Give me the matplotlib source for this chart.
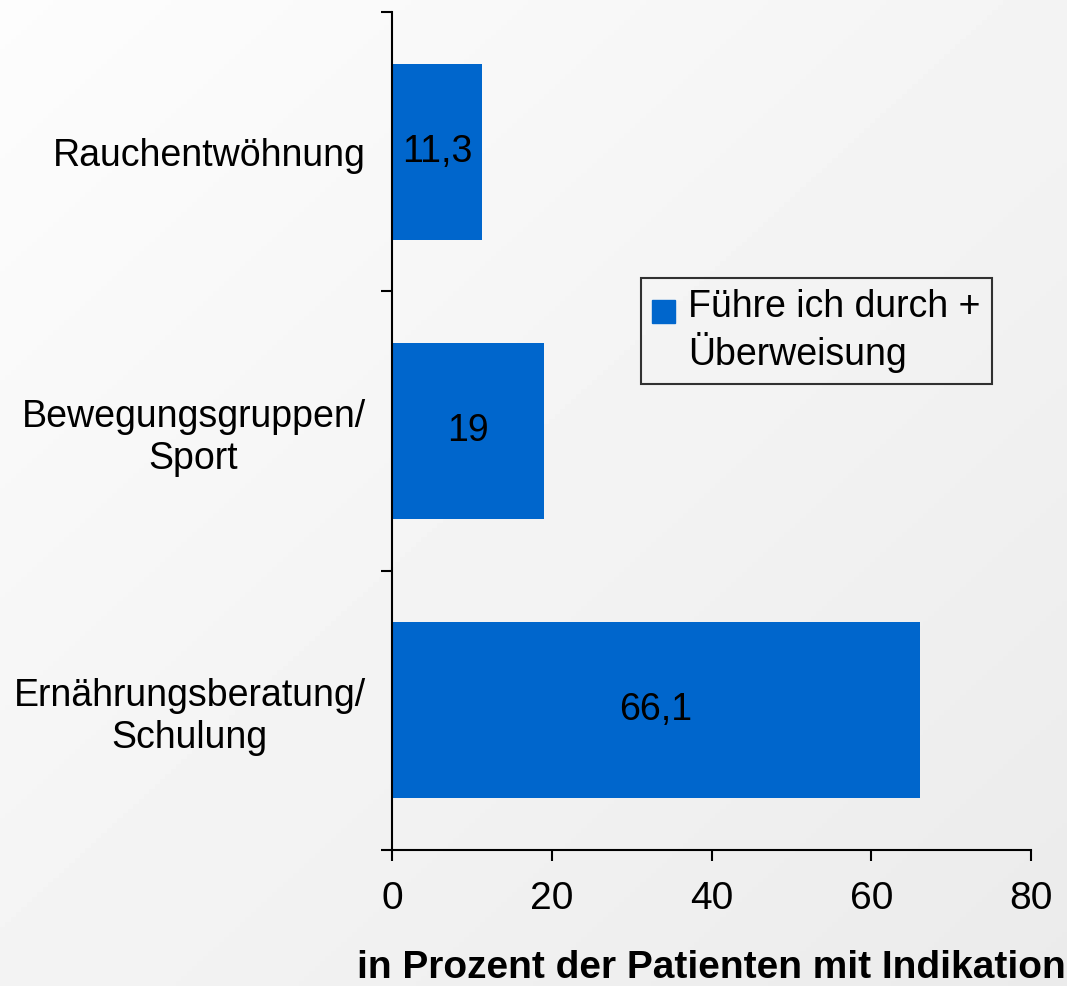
import numpy as np
import matplotlib
matplotlib.use("Agg")
import matplotlib.pyplot as plt
from matplotlib.patches import Rectangle
from matplotlib.legend_handler import HandlerPatch

# data, top to bottom as in the chart
categories = ["Rauchentwöhnung", "Bewegungsgruppen/\nSport", "Ernährungsberatung/\nSchulung"]
values = [11.3, 19, 66.1]
series_label = "Führe ich durch +\nÜberweisung"
xlabel = "in Prozent der Patienten mit Indikation"
xticks = [0, 20, 40, 60, 80]

plt.rcParams['font.family'] = ['Liberation Sans', 'DejaVu Sans']
blue = '#0066cc'

fig = plt.figure(figsize=(10.67, 9.86), dpi=100)

# soft diagonal gradient background
bg = fig.add_axes([0, 0, 1, 1], zorder=-1)
gx, gy = np.meshgrid(np.linspace(0, 1, 200), np.linspace(0, 1, 200))
bg.imshow(0.99 - 0.07 * (gx + gy) / 2, cmap='gray', vmin=0, vmax=1,
          aspect='auto', extent=(0, 1, 1, 0))
bg.axis('off')

ax = fig.add_axes([0.3674, 0.1379, 0.5989, 0.8499])
ax.set_facecolor('none')

pos = np.arange(len(categories))
bars = ax.barh(pos, values, height=0.63, color=blue, label=series_label)
ax.bar_label(bars, labels=[f"{v:g}".replace('.', ',') for v in values],
             label_type='center', fontsize=27)

ax.set_ylim(len(categories) - 0.5, -0.5)
ax.set_xlim(0, 80)
ax.set_xticks(xticks)
ax.set_xticklabels([str(t) for t in xticks], fontsize=28)

ax.set_yticks(pos)
ax.set_yticklabels(categories, fontsize=27, multialignment='center')
ax.set_yticks(np.arange(len(categories) + 1) - 0.5, minor=True)
ax.tick_params(axis='y', which='major', length=0, pad=19)
ax.tick_params(axis='y', which='minor', length=8, width=1.5, direction='out')
ax.tick_params(axis='x', length=8, width=1.5, direction='out', pad=14)

for s in ['top', 'right']:
    ax.spines[s].set_visible(False)
for s in ['left', 'bottom']:
    ax.spines[s].set_linewidth(1.5)

ax.set_xlabel(xlabel, fontsize=28, fontweight='bold', labelpad=24)


def square_handle(legend, orig_handle, xdescent, ydescent, width, height, fontsize):
    side = fontsize * 0.6
    return Rectangle((-xdescent, -ydescent + fontsize * 0.58), side, side)


leg = ax.legend(loc='upper left', bbox_to_anchor=(0.39, 0.683), borderaxespad=0,
                fontsize=27, fancybox=False, edgecolor='black', handlelength=0.6,
                handletextpad=0.35, borderpad=0.3, labelspacing=0.1,
                handler_map={Rectangle: HandlerPatch(patch_func=square_handle)},
                handles=[Rectangle((0, 0), 1, 1, color=blue)], labels=[series_label])
leg.get_frame().set_facecolor('none')
leg.get_frame().set_linewidth(1.5)

fig.savefig('out.png', dpi=100)
